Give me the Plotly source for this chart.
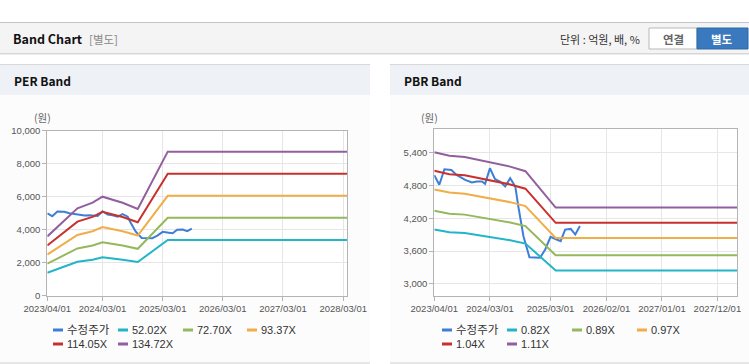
import plotly.graph_objects as go

W, H = 749, 364

# ---------------- data ----------------
series_names = ["수정주가", "52.02X", "72.70X", "93.37X", "114.05X", "134.72X"]
pbr_names = ["수정주가", "0.82X", "0.89X", "0.97X", "1.04X", "1.11X"]
colors = ["#3d7fd6", "#22b5c8", "#93b95c", "#f0ad48", "#c8312e", "#925e9f"]

price_dates = ["2023-04-01", "2023-05-01", "2023-06-01", "2023-07-13", "2023-08-13",
               "2023-10-04", "2023-11-13", "2023-12-13", "2024-01-13", "2024-02-01",
               "2024-03-01", "2024-04-01", "2024-05-01", "2024-06-01", "2024-07-01",
               "2024-08-01", "2024-08-19", "2024-09-19", "2024-10-25", "2024-12-28",
               "2025-01-28", "2025-03-01", "2025-04-07", "2025-05-01", "2025-05-28",
               "2025-07-01", "2025-07-28", "2025-08-25"]
price = [4990, 4813, 5098, 5085, 4995, 4904, 4855, 4873, 4873, 4831,
         5116, 4916, 4873, 4782, 4934, 4782, 4418, 3873, 3490, 3480,
         3631, 3862, 3813, 3782, 3995, 4007, 3904, 4060]

band_dates = ["2023-04-01", "2023-07-01", "2023-10-01", "2024-01-01", "2024-03-01",
              "2024-07-01", "2024-10-01", "2025-04-01", "2028-04-01"]

per_52 = [1384, 1717, 2044, 2174, 2315, 2174, 2029, 3371, 3371]
per_72 = [1934, 2399, 2857, 3039, 3235, 3039, 2835, 4711, 4711]
per_93 = [2484, 3081, 3669, 3903, 4155, 3903, 3641, 6050, 6050]
per_114 = [3034, 3764, 4482, 4767, 5075, 4767, 4448, 7390, 7390]
per_134 = [3584, 4446, 5294, 5631, 5995, 5631, 5254, 8730, 8730]

pbr_082 = [3996, 3948, 3932, 3887, 3854, 3801, 3739, 3247, 3247]
pbr_089 = [4337, 4285, 4268, 4219, 4183, 4125, 4058, 3524, 3524]
pbr_097 = [4727, 4671, 4651, 4598, 4559, 4496, 4423, 3841, 3841]
pbr_104 = [5068, 5008, 4987, 4930, 4888, 4820, 4742, 4118, 4118]
pbr_111 = [5409, 5345, 5322, 5261, 5217, 5145, 5062, 4396, 4396]

per_ticks = [0, 2000, 4000, 6000, 8000, 10000]
pbr_ticks = [3000, 3600, 4200, 4800, 5400]
per_xticks = ["2023-04-01", "2024-03-01", "2025-03-01", "2026-03-01", "2027-03-01", "2028-03-01"]
pbr_xticks = ["2023-04-01", "2024-03-01", "2025-03-01", "2026-02-01", "2027-01-01", "2027-12-01"]

# ---------------- helpers ----------------
def fx(x):
    return x / W

def fy(y):
    return 1 - y / H

LATIN = "Liberation Sans, Noto Sans CJK KR, sans-serif"
KR = "Noto Sans CJK KR, sans-serif"

fig = go.Figure()

per_series = [price, per_52, per_72, per_93, per_114, per_134]
pbr_series = [price, pbr_082, pbr_089, pbr_097, pbr_104, pbr_111]

for i, vals in enumerate(per_series):
    xs = price_dates if i == 0 else band_dates
    fig.add_trace(go.Scatter(x=xs, y=vals, mode="lines", name=series_names[i],
                             line=dict(color=colors[i], width=2),
                             xaxis="x", yaxis="y", showlegend=False, hoverinfo="skip"))
for i, vals in enumerate(pbr_series):
    xs = price_dates if i == 0 else band_dates
    fig.add_trace(go.Scatter(x=xs, y=vals, mode="lines", name=pbr_names[i],
                             line=dict(color=colors[i], width=2),
                             xaxis="x2", yaxis="y2", showlegend=False, hoverinfo="skip"))

axis_common = dict(showgrid=True, gridcolor="#e6e6e6", gridwidth=1,
                   showline=True, linecolor="#b4b4b4", linewidth=1, mirror=True,
                   ticks="outside", ticklen=4, tickcolor="#b4b4b4",
                   tickfont=dict(family=LATIN, size=9.5, color="#555555"),
                   zeroline=False, fixedrange=True, automargin=False)

fig.update_layout(
    template="none",
    width=W, height=H, margin=dict(l=0, r=0, t=0, b=0, pad=0, autoexpand=False),
    paper_bgcolor="#ffffff", plot_bgcolor="#ffffff",
    showlegend=False,
    xaxis=dict(axis_common, type="date", domain=[fx(47.3), fx(347.2)],
               range=["2023-04-01", "2028-03-25"],
               tickvals=per_xticks, ticktext=[d.replace("-", "/") for d in per_xticks],
               anchor="y"),
    yaxis=dict(axis_common, domain=[fy(295.5), fy(130.7)], range=[0, 10000],
               tickvals=per_ticks, ticktext=[f"{v:,}" for v in per_ticks], anchor="x",
               ticklabelstandoff=0),
    xaxis2=dict(axis_common, type="date", domain=[fx(434.3), fx(737.3)],
                range=["2023-04-01", "2028-03-30"],
                tickvals=pbr_xticks, ticktext=[d.replace("-", "/") for d in pbr_xticks],
                anchor="y2"),
    yaxis2=dict(axis_common, domain=[fy(295.7), fy(129)], range=[2786, 5833],
                tickvals=pbr_ticks, ticktext=[f"{v:,}" for v in pbr_ticks], anchor="x2",
                ticklabelstandoff=0),
)

shapes = []
ann = []

def rect(x0, y0, x1, y1, fill, line=None, lw=0, layer="below"):
    shapes.append(dict(type="rect", xref="paper", yref="paper",
                       x0=fx(x0), x1=fx(x1), y0=fy(y1), y1=fy(y0),
                       fillcolor=fill, line=dict(color=line or fill, width=lw), layer=layer))

def hline(x0, x1, y, color, width=1, layer="below"):
    shapes.append(dict(type="line", xref="paper", yref="paper",
                       x0=fx(x0), x1=fx(x1), y0=fy(y), y1=fy(y),
                       line=dict(color=color, width=width), layer=layer))

def text(x, y, s, size=11, color="#333333", family=LATIN, xanchor="left", bold=False):
    if bold:
        s = f"<b>{s}</b>"
    ann.append(dict(xref="paper", yref="paper", x=fx(x), y=fy(y), text=s,
                    showarrow=False, xanchor=xanchor, yanchor="middle",
                    font=dict(family=family, size=size, color=color)))

# top header bar
rect(0, 22, W, 53, "#f4f4f4")
hline(0, W, 22.5, "#c4c4c4", 1)
hline(0, W, 53.5, "#d6d6d6", 1)
hline(0, W, 54.5, "#ececec", 1)
text(11, 39, "Band Chart", size=12.5, color="#111111", family=KR, bold=True)
text(87, 39, "[별도]", size=11.5, color="#888888", family=KR)
text(642, 39, "단위 : 억원, 배, %", size=11, color="#333333", family=KR, xanchor="right")
shapes.append(dict(type="rect", xref="paper", yref="paper",
                   x0=fx(649), x1=fx(697), y0=fy(49), y1=fy(28),
                   fillcolor="#ffffff", line=dict(color="#b8b8b8", width=1), layer="below"))
shapes.append(dict(type="rect", xref="paper", yref="paper",
                   x0=fx(697), x1=fx(748), y0=fy(49), y1=fy(28),
                   fillcolor="#3a79bd", line=dict(color="#2f6aa8", width=1), layer="below"))
text(673, 39, "연결", size=11.5, color="#666666", family=KR, xanchor="center", bold=True)
text(722, 39, "별도", size=11.5, color="#ffffff", family=KR, xanchor="center", bold=True)

# panels
for (px0, px1, title) in [(0, 370, "PER Band"), (390, W, "PBR Band")]:
    rect(px0, 64, px1, 364, "#fcfcfc")
    rect(px0, 64, px1, 95, "#eef1f6")
    hline(px0, px1, 64.5, "#d8d8d8", 1)
    hline(px0, px1, 363, "#d0d0d0", 1)
    text(px0 + 12, 80, title, size=12, color="#111111", family=KR, bold=True)

# plot backgrounds white
rect(47.3, 130.7, 347.2, 295.5, "#ffffff")
rect(434.3, 129, 737.3, 295.7, "#ffffff")

# unit labels
text(42, 118, "(원)", size=10.5, color="#666666", family=KR, xanchor="center")
text(429, 118, "(원)", size=10.5, color="#666666", family=KR, xanchor="center")

# legends (manual)
def legend(names, starts, rows):
    for i, nm in enumerate(names):
        x0 = starts[i % 4]
        y = rows[i // 4]
        hline(x0, x0 + 10, y, colors[i], 3, layer="above")
        text(x0 + 12, y, nm, size=11.5 if i == 0 else 11, color="#333333", family=LATIN)

legend(series_names, [53, 118, 183, 247], [330, 344])
legend(pbr_names, [442, 507, 572, 637], [330, 344])

fig.update_layout(shapes=shapes, annotations=ann)
fig.write_html("out.html", config={"displayModeBar": False, "staticPlot": True},
               post_script="document.body.style.margin='0';document.body.style.overflow='hidden';")
